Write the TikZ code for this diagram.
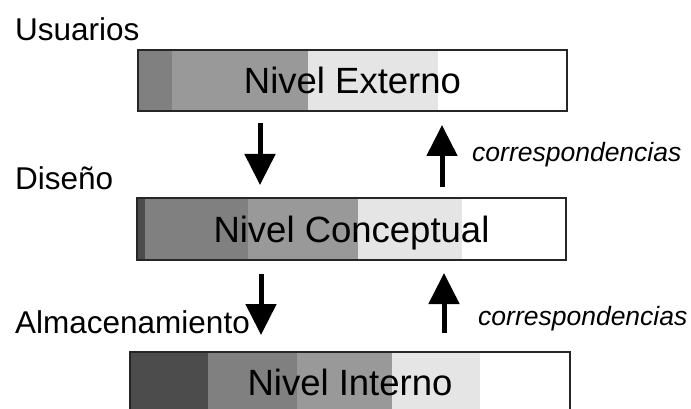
\documentclass[tikz,border=0pt]{standalone}
\usepackage{fontspec}
\setmainfont{Liberation Sans}
\usetikzlibrary{arrows.meta}
\definecolor{gA}{gray}{0.30}
\definecolor{gB}{gray}{0.50}
\definecolor{gC}{gray}{0.60}
\definecolor{gD}{gray}{0.90}
\tikzset{
  nivel/.style={draw=black!85,line width=1.4pt,inner sep=0pt,
    font=\fontsize{36.5}{40}\selectfont,text height=26pt,text depth=0pt},
  etiq/.style={anchor=west,inner sep=0pt,
    font=\fontsize{31.5}{34}\selectfont,text height=22.5pt,text depth=0pt},
  corr/.style={anchor=west,inner sep=0pt,
    font=\fontsize{26.5}{30}\selectfont\itshape,text height=13.8pt,text depth=0pt},
  flecha/.style={line width=5pt,-{Triangle[width=30pt,length=31pt]}}
}
\begin{document}
\begin{tikzpicture}[x=1pt,y=-1pt]
  \useasboundingbox[fill=white] (0,0) rectangle (691,409);
  % grey bands behind the three levels
  \foreach \a/\b/\c in {138/172/gB, 172/308/gC, 308/438/gD}
    \fill[\c] (\a,50) rectangle (\b,111);
  \foreach \a/\b/\c in {137/145/gA, 145/248/gB, 248/358/gC, 358/462/gD}
    \fill[\c] (\a,198) rectangle (\b,260);
  \foreach \a/\b/\c in {130/208/gA, 208/297/gB, 297/392/gC, 392/480/gD}
    \fill[\c] (\a,352) rectangle (\b,412);
  % levels
  \node[nivel,minimum width=429pt,minimum height=61pt] (ext) at (352.5,80.5) {Nivel Externo};
  \node[nivel,minimum width=429pt,minimum height=62pt] (con) at (351.5,229) {Nivel Conceptual};
  \node[nivel,minimum width=440pt,minimum height=60pt] (int) at (350,382) {Nivel Interno};
  % side labels
  \node[etiq] (usu) at (15,29) {Usuarios};
  \node[etiq] (dis) at (15,178) {Diseño};
  \node[etiq] (alm) at (15,322) {Almacenamiento};
  % arrow ends
  \coordinate (d1a) at (260,123);  \coordinate (d1b) at (260,185);
  \coordinate (u1a) at (442,187);  \coordinate (u1b) at (442,125);
  \coordinate (d2a) at (261,274);  \coordinate (d2b) at (261,335);
  \coordinate (u2a) at (444,333);  \coordinate (u2b) at (444,273);
  \draw[flecha] (d1a) -- (d1b);
  \draw[flecha] (u1a) -- (u1b);
  \draw[flecha] (d2a) -- (d2b);
  \draw[flecha] (u2a) -- (u2b);
  \node[corr] (cor1) at (472,155) {correspondencias};
  \node[corr] (cor2) at (478,319) {correspondencias};
\end{tikzpicture}
\end{document}
